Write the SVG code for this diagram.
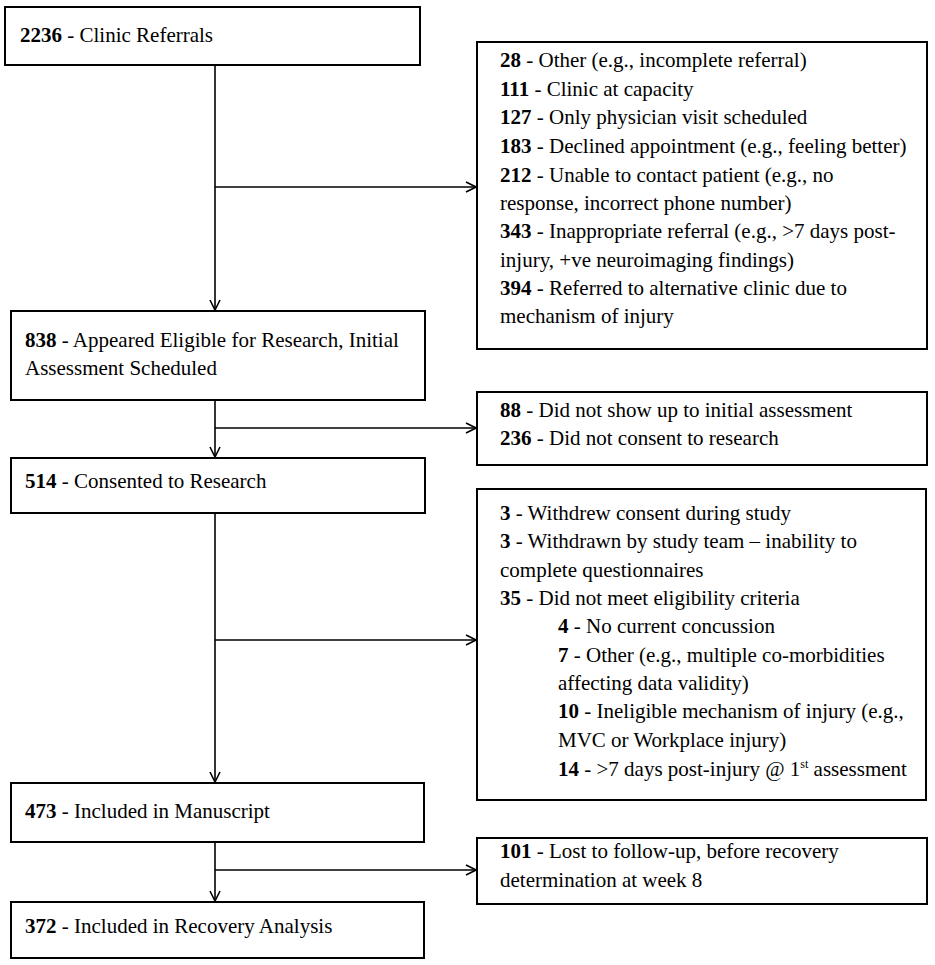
<svg xmlns="http://www.w3.org/2000/svg" width="935" height="965" viewBox="0 0 935 965">
<defs>
<style>
.box{fill:#fff;stroke:#000;stroke-width:2}
.t{font-family:"Liberation Serif","Times New Roman",serif;font-size:21px;fill:#000}
.b{font-weight:bold}
.ln{stroke:#000;stroke-width:1.6;fill:none}
</style>
<marker id="arr" viewBox="0 0 12 12" refX="11" refY="6" markerWidth="12" markerHeight="12" markerUnits="userSpaceOnUse" orient="auto">
<path d="M1,1 L11,6 L1,11" fill="none" stroke="#000" stroke-width="1.6"/>
</marker>
</defs>
<rect width="935" height="965" fill="#fff"/>
<g id="connectors">
<line class="ln" x1="215" y1="65" x2="215" y2="310" marker-end="url(#arr)"/>
<line class="ln" x1="215" y1="187" x2="476" y2="187" marker-end="url(#arr)"/>
<line class="ln" x1="215" y1="400" x2="215" y2="457" marker-end="url(#arr)"/>
<line class="ln" x1="215" y1="428" x2="476" y2="428" marker-end="url(#arr)"/>
<line class="ln" x1="215" y1="513" x2="215" y2="782" marker-end="url(#arr)"/>
<line class="ln" x1="215" y1="640" x2="476" y2="640" marker-end="url(#arr)"/>
<line class="ln" x1="215" y1="842" x2="215" y2="901" marker-end="url(#arr)"/>
<line class="ln" x1="215" y1="870" x2="476" y2="870" marker-end="url(#arr)"/>
</g>
<g id="n2236">
<rect class="box" x="5" y="7" width="415" height="58"/>
<text class="t" x="20" y="42"><tspan class="b">2236</tspan> - Clinic Referrals</text>
</g>
<g id="excl1">
<rect class="box" x="477" y="42" width="450" height="307"/>
<text class="t" x="500" y="67"><tspan class="b">28</tspan> - Other (e.g., incomplete referral)</text>
<text class="t" x="500" y="96"><tspan class="b">111</tspan> - Clinic at capacity</text>
<text class="t" x="500" y="124"><tspan class="b">127</tspan> - Only physician visit scheduled</text>
<text class="t" x="500" y="153"><tspan class="b">183</tspan> - Declined appointment (e.g., feeling better)</text>
<text class="t" x="500" y="182"><tspan class="b">212</tspan> - Unable to contact patient (e.g., no</text>
<text class="t" x="500" y="210">response, incorrect phone number)</text>
<text class="t" x="500" y="238"><tspan class="b">343</tspan> - Inappropriate referral (e.g., &gt;7 days post-</text>
<text class="t" x="500" y="267">injury, +ve neuroimaging findings)</text>
<text class="t" x="500" y="295"><tspan class="b">394</tspan> - Referred to alternative clinic due to</text>
<text class="t" x="500" y="323">mechanism of injury</text>
</g>
<g id="n838">
<rect class="box" x="11" y="311" width="414" height="89"/>
<text class="t" x="25" y="347"><tspan class="b">838</tspan> - Appeared Eligible for Research, Initial</text>
<text class="t" x="25" y="375">Assessment Scheduled</text>
</g>
<g id="excl2">
<rect class="box" x="477" y="392" width="450" height="73"/>
<text class="t" x="500" y="417"><tspan class="b">88</tspan> - Did not show up to initial assessment</text>
<text class="t" x="500" y="445"><tspan class="b">236</tspan> - Did not consent to research</text>
</g>
<g id="n514">
<rect class="box" x="11" y="458" width="414" height="55"/>
<text class="t" x="25" y="488"><tspan class="b">514</tspan> - Consented to Research</text>
</g>
<g id="excl3">
<rect class="box" x="477" y="489" width="449" height="311"/>
<text class="t" x="500" y="520"><tspan class="b">3</tspan> - Withdrew consent during study</text>
<text class="t" x="500" y="548"><tspan class="b">3</tspan> - Withdrawn by study team – inability to</text>
<text class="t" x="500" y="577">complete questionnaires</text>
<text class="t" x="500" y="605"><tspan class="b">35</tspan> - Did not meet eligibility criteria</text>
<text class="t" x="558" y="633"><tspan class="b">4</tspan> - No current concussion</text>
<text class="t" x="558" y="662"><tspan class="b">7</tspan> - Other (e.g., multiple co-morbidities</text>
<text class="t" x="558" y="690">affecting data validity)</text>
<text class="t" x="558" y="718"><tspan class="b">10</tspan> - Ineligible mechanism of injury (e.g.,</text>
<text class="t" x="558" y="747">MVC or Workplace injury)</text>
<text class="t" x="558" y="776"><tspan class="b">14</tspan> - &gt;7 days post-injury @ 1<tspan font-size="12" dy="-8">st</tspan><tspan dy="8"> assessment</tspan></text>
</g>
<g id="n473">
<rect class="box" x="11" y="783" width="413" height="59"/>
<text class="t" x="25" y="818"><tspan class="b">473</tspan> - Included in Manuscript</text>
</g>
<g id="excl4">
<rect class="box" x="477" y="838" width="450" height="66"/>
<text class="t" x="500" y="858"><tspan class="b">101</tspan> - Lost to follow-up, before recovery</text>
<text class="t" x="500" y="887">determination at week 8</text>
</g>
<g id="n372">
<rect class="box" x="11" y="902" width="413" height="56"/>
<text class="t" x="25" y="933"><tspan class="b">372</tspan> - Included in Recovery Analysis</text>
</g>
</svg>
